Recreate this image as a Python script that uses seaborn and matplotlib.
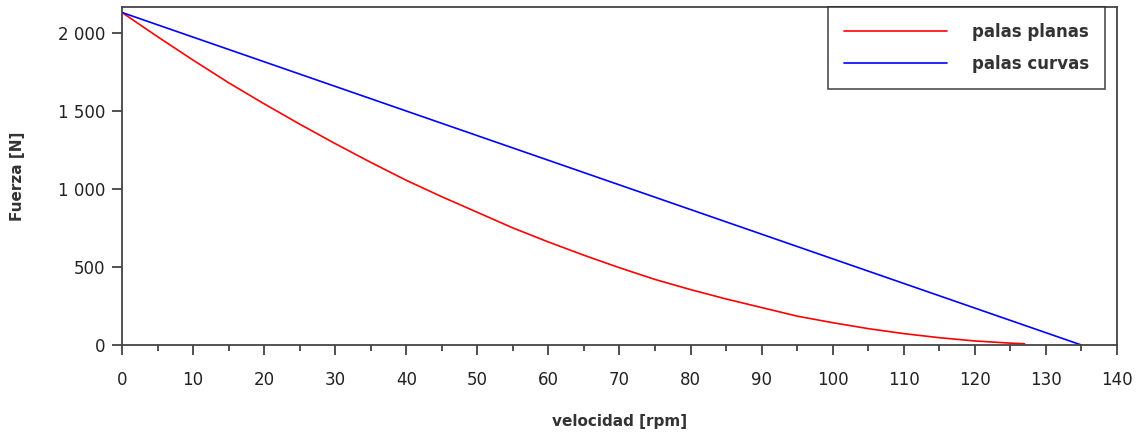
import matplotlib
matplotlib.use("Agg")
import matplotlib.pyplot as plt
import matplotlib.ticker as mticker
import seaborn as sns
import pandas as pd

# velocidad [rpm] and fuerza [N]
vel_planas = [0, 5, 10, 15, 20, 25, 30, 35, 40, 45, 50, 55, 60, 65, 70, 75,
              80, 85, 90, 95, 100, 105, 110, 115, 120, 125, 127]
f_planas = [2130, 1975, 1825, 1680, 1545, 1415, 1290, 1170, 1055, 950, 850,
            750, 660, 575, 495, 420, 355, 295, 240, 185, 143, 105, 73, 47, 26, 12, 8]
vel_curvas = [0, 135]
f_curvas = [2130, 0]

df = pd.concat([
    pd.DataFrame({"v": vel_planas, "F": f_planas, "serie": "palas planas"}),
    pd.DataFrame({"v": vel_curvas, "F": f_curvas, "serie": "palas curvas"}),
])

sns.set_style("white")
plt.rcParams["font.family"] = ["DejaVu Sans"]

fig = plt.figure(figsize=(11.38, 4.33), dpi=100)
ax = fig.add_axes([0.1072, 0.2032, 0.8743, 0.7806])

sns.lineplot(data=df, x="v", y="F", hue="serie", sort=False,
             palette={"palas planas": "#ff0000", "palas curvas": "#0000ff"},
             linewidth=1.2, ax=ax)

ax.set_xlim(0, 140)
ax.set_ylim(0, 2165)
ax.xaxis.set_major_locator(mticker.MultipleLocator(10))
ax.xaxis.set_minor_locator(mticker.MultipleLocator(5))
ax.yaxis.set_major_locator(mticker.MultipleLocator(500))
ax.yaxis.set_major_formatter(mticker.FuncFormatter(
    lambda y, p: f"{int(y):,}".replace(",", " ")))

ax.tick_params(axis="both", which="major", direction="out", length=7,
               width=1.2, color="#333333", labelsize=12, labelcolor="#222222",
               bottom=True, left=True)
ax.tick_params(axis="x", which="major", pad=12)
ax.tick_params(axis="y", which="major", pad=5)
ax.tick_params(axis="x", which="minor", direction="out", length=4,
               width=1.2, color="#333333", bottom=True)

for s in ax.spines.values():
    s.set_color("#444444")
    s.set_linewidth(1.3)

ax.set_xlabel("velocidad [rpm]", fontsize=11, fontweight="bold",
              color="#333333", labelpad=18)
ax.set_ylabel("Fuerza [N]", fontsize=11, fontweight="bold",
              color="#333333", labelpad=24)

leg = ax.legend(loc="upper right", bbox_to_anchor=(0.988, 1.0),
                borderaxespad=0.0, fontsize=12, frameon=True, fancybox=False,
                handlelength=6.2, borderpad=0.95, labelspacing=0.85,
                handletextpad=1.5)
leg.get_frame().set_edgecolor("#222222")
leg.get_frame().set_linewidth(1.2)
for t in leg.get_texts():
    t.set_fontweight("bold")
    t.set_color("#333333")

plt.savefig("out.png", dpi=100)
